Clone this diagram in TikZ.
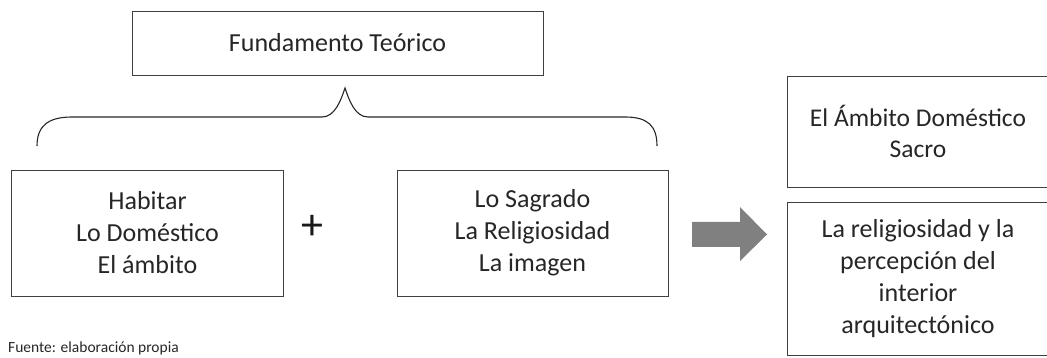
\documentclass[tikz,border=0pt]{standalone}
\usepackage{fontspec}
\setmainfont{Carlito}
\begin{document}
\begin{tikzpicture}[x=1pt,y=-1pt,
  box/.style={draw=black!75,line width=0.9pt,inner sep=0pt,align=center,
    font=\fontsize{26}{32}\selectfont,text=black!85},
  bracestyle/.style={draw=black!85,line width=1.1pt}]
\useasboundingbox (0,0) rectangle (1047,358);
\node[box,minimum width=411,minimum height=64] (ft) at (337.5,43) {Fundamento Teórico};
\node[box,minimum width=272,minimum height=126] (hab) at (147.5,233) {Habitar\\Lo Doméstico\\El ámbito};
\node[font=\fontsize{44}{44}\selectfont,text=black!90,inner sep=0pt] (plus) at (312.5,227.5) {+};
\node[box,minimum width=271,minimum height=126] (sag) at (532.5,233) {Lo Sagrado\\La Religiosidad\\La imagen};
\node[box,minimum width=262,minimum height=111,font=\fontsize{25.5}{31}\selectfont] (amb) at (918,131.5) {El Ámbito Doméstico\\Sacro};
\node[box,minimum width=262,minimum height=153] (rel) at (918,278.5) {La religiosidad y la\\percepción del\\interior\\arquitectónico};
\node[anchor=base west,font=\fontsize{15.5}{16}\selectfont,text=black!85,inner sep=0pt] (src) at (8,352.5) {Fuente: elaboración propia};
% brace
\coordinate (bl) at (37,146);
\coordinate (bt) at (345,88);
\coordinate (br) at (657,146);
\draw[bracestyle] (bl) .. controls (37,126) and (48,117) .. (72,117)
  -- (322,117) .. controls (335,117) and (341,100) .. (bt)
  .. controls (349,100) and (355,117) .. (368,117)
  -- (625,117) .. controls (648,117) and (657,126) .. (br);
% arrow
\coordinate (a1) at (692,222);
\fill[black!50] (a1) -- (740,222) -- (740,207) -- (767,234.5) -- (740,261) -- (740,247) -- (692,247) -- cycle;
\end{tikzpicture}
\end{document}
